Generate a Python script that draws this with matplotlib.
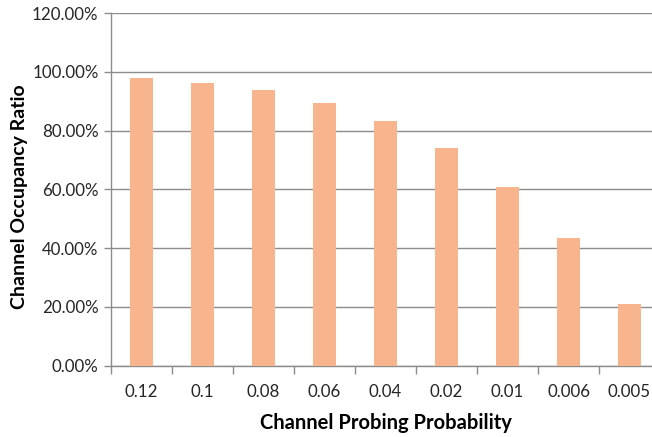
import matplotlib.pyplot as plt
from matplotlib.ticker import FuncFormatter, FixedLocator

probs = ["0.12", "0.1", "0.08", "0.06", "0.04", "0.02", "0.01", "0.006", "0.005"]
occupancy = [97.9, 96.1, 93.9, 89.5, 83.3, 74.2, 60.7, 43.3, 21.0]

plt.rcParams['font.family'] = ['Lato', 'DejaVu Sans']

fig = plt.figure(figsize=(6.52, 4.37), dpi=100)
# plot area runs a bit past the right edge of the canvas
ax = fig.add_axes([111 / 652, 71.5 / 437, 549 / 652, 352.2 / 437])

x = range(len(probs))
ax.bar(x, occupancy, width=0.38, color="#F8B48D", zorder=3)

ax.set_xlim(-0.5, len(probs) - 0.5)
ax.set_ylim(0, 120)
ax.set_yticks(range(0, 121, 20))
ax.yaxis.set_major_formatter(FuncFormatter(lambda v, p: f"{v:.2f}%"))
ax.grid(axis="y", color="#8C8C8C", linewidth=1.0, zorder=0)

# category labels centered, tick marks between categories
ax.set_xticks(list(x))
ax.set_xticklabels(probs)
ax.xaxis.set_minor_locator(FixedLocator([i - 0.5 for i in range(len(probs) + 1)]))
ax.tick_params(axis="x", which="major", length=0, pad=13, labelsize=12.2, labelcolor="#262626")
ax.tick_params(axis="x", which="minor", length=6, color="#8C8C8C", width=1.0)
ax.tick_params(axis="y", length=5, color="#8C8C8C", width=1.0, pad=4, labelsize=12.2, labelcolor="#262626")

for side in ["top", "right"]:
    ax.spines[side].set_visible(False)
for side in ["left", "bottom"]:
    ax.spines[side].set_color("#8C8C8C")
    ax.spines[side].set_linewidth(1.0)

ax.set_xlabel("Channel Probing Probability", fontsize=14.5, fontweight="bold", labelpad=10)
ax.set_ylabel("Channel Occupancy Ratio", fontsize=14, fontweight="bold")
ax.yaxis.set_label_coords(-0.152, 0.48)

fig.savefig("out.png", dpi=100)
